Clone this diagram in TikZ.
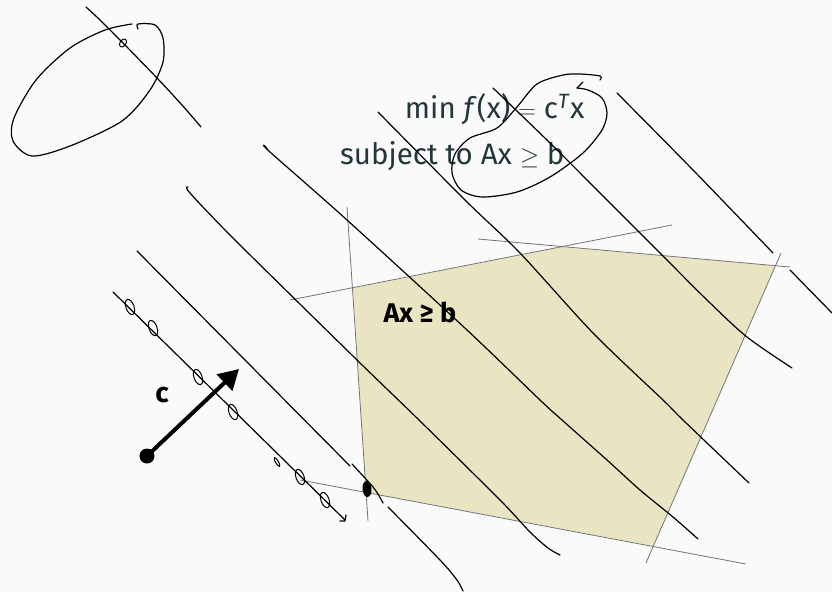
\documentclass[tikz,border=0pt]{standalone}
\usepackage{fontspec}
\setmainfont{Fira Sans}
\usepackage{xcolor}
\usepackage{tikz}
\usetikzlibrary{arrows.meta}
\definecolor{slidebg}{HTML}{FAFAFA}
\definecolor{feasible}{HTML}{E9E4C1}
\definecolor{slatetext}{HTML}{23373B}
\begin{document}
\begin{tikzpicture}[x=1pt,y=-1pt,
    pen/.style={black,line width=1.2pt,line cap=round,line join=round},
    halfplane/.style={black!55,line width=0.8pt},
    mark oval/.style={black,line width=1pt}]
  \useasboundingbox (0,0) rectangle (832,592);
  \fill[slidebg] (0,0) rectangle (832,592);
  \fill[feasible] (353,288)--(562,247)--(775,266)--(653,546)--(366,492)--cycle;
  \draw[halfplane] (347,207)--(368,521);
  \draw[halfplane] (290,300)--(672,225);
  \draw[halfplane] (478,239)--(790,267);
  \draw[halfplane] (781,253)--(646,563);
  \draw[halfplane] (300,480)--(746,564);
  \node[text=slatetext,font=\fontsize{29.5}{34}\selectfont,anchor=base east] (objective) at (588,118)
    {min \textit{f}(x) $=$ c\textsuperscript{\textit{T}}x};
  \node[text=slatetext,font=\fontsize{29.5}{34}\selectfont,anchor=base east] (constraint) at (568,164)
    {subject to Ax $\geq$ b};
  \node[font=\fontsize{27}{31}\selectfont\bfseries,anchor=base west] (region) at (380,322) {Ax ≥ b};
  \node[font=\fontsize{28}{32}\selectfont\bfseries,anchor=base] (cost) at (162,402) {c};
  \draw[pen] plot[smooth] coordinates {(86,7) (100,20) (123,43) (157,78) (182,105) (201,127)};
  \draw[pen] plot[smooth] coordinates {(138,29) (138,24) (155,25) (163,38) (163,62) (150,90) (122,121)
    (70,146) (32,156) (13,141) (14,118) (36,80) (70,48) (105,30) (132,24)};
  \draw[pen] (113,292)--(345,520);
  \draw[pen] (340,521)--(345,521)--(346,515);
  \draw[pen] (137,251)--(350,466);
  \draw[pen] plot[smooth] coordinates {(188,187) (190,193) (235,240) (357,360) (420,421) (500,500) (530,532) (548,548) (560,555)};
  \draw[pen] plot[smooth] coordinates {(268,150) (265,146) (270,152) (347,220) (467,330) (540,400) (562,420) (607,460) (640,490) (673,517) (698,539)};
  \draw[pen] plot[smooth] coordinates {(378,112) (465,200) (520,253) (593,333) (663,400) (683,420) (749,483)};
  \draw[pen] plot[smooth] coordinates {(493,88) (550,143) (605,198) (660,253) (707,300) (747,337) (792,368)};
  \draw[pen] plot[smooth] coordinates {(617,93) (693,170) (773,253)};
  \draw[pen] (790,270)--(832,313);
  \draw[pen] plot[smooth] coordinates {(352,464) (365,478) (373,487) (378,494) (383,503)};
  \draw[pen] plot[smooth] coordinates {(388,507) (440,560) (457,580) (463,591)};
  \foreach \px/\py in {130/307,153/328,198/377,233/412,300/477,325/500}
    \draw[mark oval,rotate around={20:(\px,\py)}] (\px,\py) ellipse (4 and 8);
  \draw[mark oval,rotate around={30:(277,462)}] (277,462) ellipse (1.5 and 5);
  \draw[mark oval,rotate around={-35:(123,43)}] (123,43) ellipse (3 and 4.5);
  \fill[rotate around={5:(367,489)}] (367,489) ellipse (4.5 and 8);
  \draw[pen] plot[smooth] coordinates {(600,80) (600,76) (580,74) (563,75) (537,84) (517,107) (497,128)
    (470,138) (455,154) (452,173) (461,190) (482,197) (517,192) (550,177) (583,153) (602,130)
    (607,113) (602,98) (588,90) (577,88)};
  \draw[pen] (577,88)--(583,82);
  \coordinate (origin) at (147,456);
  \coordinate (tip) at (239,369);
  \fill (origin) circle (7.5);
  \draw[line width=4pt,-{Triangle[length=20pt,width=22pt]}] (origin)--(tip);
\end{tikzpicture}
\end{document}
